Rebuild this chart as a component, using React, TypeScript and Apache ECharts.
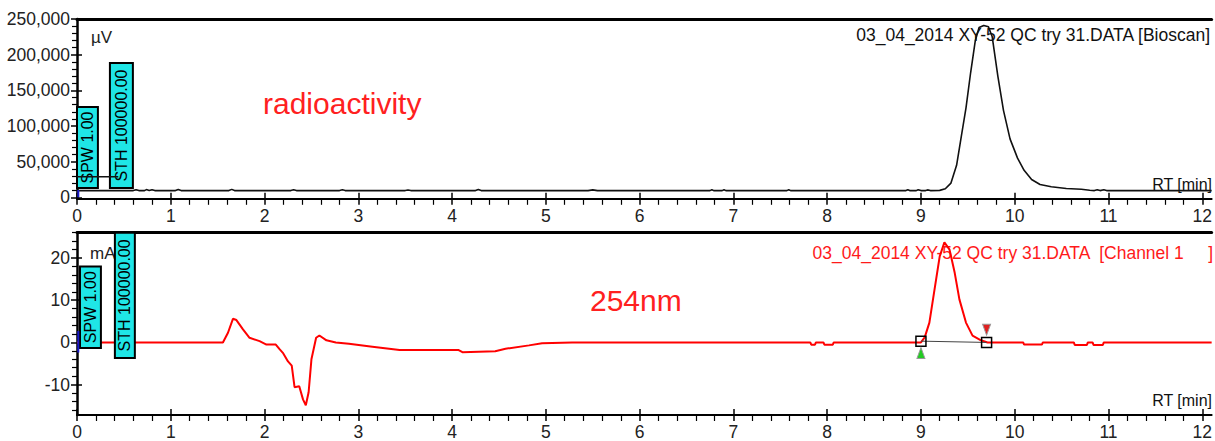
import React, { useEffect, useRef } from "react";
import * as echarts from "echarts";

// ---------- data ----------
// radioactivity trace (Bioscan), RT [min] and µV
const radioRT = [0, 0.6, 0.63, 0.66, 0.72, 0.74, 0.77, 0.8, 0.83, 1.05, 1.08, 1.11, 1.62, 1.65, 1.68, 2.28, 2.31, 2.34, 2.8, 2.83, 2.86, 3.5, 3.53, 3.56, 4.25, 4.28, 4.31, 5.45, 5.5, 5.55, 6.75, 6.77, 6.79, 6.88, 6.9, 6.92, 7.57, 7.59, 7.61, 8.84, 8.86, 8.88, 8.95, 8.97, 9.0, 9.05, 9.07, 9.1, 9.2, 9.26, 9.32, 9.38, 9.43, 9.48, 9.53, 9.58, 9.62, 9.67, 9.72, 9.76, 9.82, 9.88, 9.95, 10.03, 10.1, 10.18, 10.27, 10.39, 10.55, 10.71, 10.8, 10.85, 10.88, 10.91, 10.95, 10.98, 12.1];
const radioSignal = [9500, 9500, 10800, 9500, 9500, 10900, 9600, 10800, 9500, 9500, 11000, 9500, 9500, 11200, 9500, 9500, 10800, 9500, 9500, 10600, 9500, 9500, 10400, 9500, 9500, 11000, 9500, 9500, 10500, 9500, 9500, 10800, 9500, 9500, 10800, 9500, 9500, 10800, 9500, 9500, 10600, 9500, 9500, 10800, 9500, 9500, 10500, 9500, 9800, 12000, 20000, 45000, 85000, 125000, 175000, 220000, 238000, 241000, 239000, 225000, 170000, 122000, 82000, 55000, 38000, 25000, 18000, 15000, 12500, 11300, 10000, 9500, 10600, 9500, 10600, 9500, 9500];

// UV trace (254 nm), RT [min] and mAU
const uvRT = [0, 1.556, 1.61, 1.663, 1.7, 1.77, 1.84, 1.947, 2.02, 2.12, 2.16, 2.2, 2.25, 2.29, 2.32, 2.37, 2.41, 2.44, 2.47, 2.5, 2.55, 2.585, 2.66, 2.76, 2.9, 3.15, 3.44, 4.07, 4.11, 4.46, 4.57, 4.82, 4.96, 5.28, 7.82, 7.83, 7.87, 7.88, 7.96, 7.97, 8.06, 8.07, 9.0, 9.04, 9.09, 9.15, 9.2, 9.25, 9.305, 9.36, 9.41, 9.48, 9.55, 9.64, 9.71, 10.09, 10.1, 10.29, 10.3, 10.63, 10.64, 10.77, 10.78, 10.83, 10.84, 10.94, 10.95, 12.1];
const uvSignal = [0, 0, 2.3, 5.6, 5.3, 3.1, 1.1, 0.3, -0.5, -0.5, -1.6, -2.6, -4.5, -5.5, -10.6, -10.4, -13.5, -14.9, -11.8, -4.0, 1.1, 1.65, 0.5, 0, -0.3, -1.0, -1.8, -1.8, -2.3, -2.1, -1.5, -0.7, -0.2, 0, 0, -0.55, -0.55, 0, 0, -0.55, -0.55, 0, 0, 1.2, 4.7, 13.3, 20.4, 23.7, 22, 16.5, 10.2, 4.7, 1.6, 0.5, 0, 0, -0.5, -0.5, 0, 0, -0.6, -0.6, 0, 0, -0.6, -0.6, 0, 0];

// parameter boxes [RT start, RT end, value low, value high]
const topBoxLabels = ["SPW 1.00", "STH 100000.00"];
const topBoxes = [
  [0, 0.223, 13200, 126600],
  [0.351, 0.596, 13200, 188200],
];
const bottomBoxLabels = ["SPW 1.00", "STH 100000.00"];
const bottomBoxes = [
  [0.032, 0.255, -1.3, 18.0],
  [0.404, 0.617, -3.7, 26.0],
];
const thresholdLine = [[0, 29000], [0.44, 29000]];
const topStartMarker = [[0.014, 0], [0.014, 10500]];
const bottomStartMarker = [[0.014, -2.4], [0.014, 2.7]];
const peakBounds = [[9.0, 0.3], [9.7, 0.0]];
const peakStartFlag = [[9.0, -2.5]];
const peakEndFlag = [[9.7, 3.0]];

// ticks
const majorRT = [0, 1, 2, 3, 4, 5, 6, 7, 8, 9, 10, 11, 12];
const topYTicks = [0, 50000, 100000, 150000, 200000, 250000];
const bottomYTicks = [-10, 0, 10, 20];

const minorBetween = (majors: number[], step: number, lo: number, hi: number) => {
  const out: number[] = [];
  const first = majors[0] - 10 * step * 5;
  for (let v = first; v <= hi + 1e-9; v += step) {
    const r = Math.round(v * 1e6) / 1e6;
    if (r > lo && r < hi && !majors.some((m) => Math.abs(m - r) < 1e-9)) out.push(r);
  }
  return out;
};

const FONT = "'Liberation Sans', Arial, sans-serif";
const X_MAX = 12.1;
const TOP_Y = [-2000, 250000];
const BOT_Y = [-17.2, 26.1];

const minorRT = minorBetween(majorRT, 0.2, 0, X_MAX);
const topMinorY = minorBetween(topYTicks, 10000, TOP_Y[0], TOP_Y[1]);
const bottomMinorY = minorBetween(bottomYTicks, 2, BOT_Y[0], BOT_Y[1]);

const zip = (xs: number[], ys: number[]) => xs.map((x, i) => [x, ys[i]]);

const fmtThousands = (v: number) => String(Math.round(v)).replace(/\B(?=(\d{3})+(?!\d))/g, ",");

function xAxesFor(g: number) {
  const base = { type: "value", gridIndex: g, min: 0, max: X_MAX, splitLine: { show: false } };
  return [
    {
      ...base,
      position: "bottom",
      axisLine: { show: true, onZero: false, lineStyle: { color: "#000", width: 2 } },
      axisTick: { show: true, customValues: majorRT, length: 6, lineStyle: { color: "#000", width: 1.5 } },
      axisLabel: { show: true, customValues: majorRT, margin: 8, fontSize: 17.5, color: "#222", fontFamily: FONT },
    },
    {
      ...base,
      position: "bottom",
      axisLine: { show: false, onZero: false },
      axisTick: { show: true, inside: true, customValues: majorRT, length: 6, lineStyle: { color: "#000", width: 1.5 } },
      axisLabel: { show: false },
    },
    {
      ...base,
      position: "bottom",
      axisLine: { show: false, onZero: false },
      axisTick: { show: true, customValues: minorRT, length: 6, lineStyle: { color: "#000", width: 1.2 } },
      axisLabel: { show: false },
    },
    {
      ...base,
      position: "top",
      axisLine: { show: true, onZero: false, lineStyle: { color: "#000", width: 3 } },
      axisTick: { show: false },
      axisLabel: { show: false },
    },
  ];
}

function yAxesFor(g: number, range: number[], majors: number[], minors: number[], fmt: (v: number) => string) {
  const base = { type: "value", gridIndex: g, min: range[0], max: range[1], position: "left", splitLine: { show: false } };
  return [
    {
      ...base,
      axisLine: { show: true, onZero: false, lineStyle: { color: "#000", width: 2.5 } },
      axisTick: { show: true, customValues: majors, length: 6, lineStyle: { color: "#000", width: 1.5 } },
      axisLabel: { show: true, customValues: majors, margin: 7, fontSize: 17.5, color: "#222", fontFamily: FONT, formatter: fmt },
    },
    {
      ...base,
      axisLine: { show: false, onZero: false },
      axisTick: { show: true, inside: true, customValues: majors, length: 5, lineStyle: { color: "#000", width: 1.5 } },
      axisLabel: { show: false },
    },
    {
      ...base,
      axisLine: { show: false, onZero: false },
      axisTick: { show: true, customValues: minors, length: 5, lineStyle: { color: "#000", width: 1.2 } },
      axisLabel: { show: false },
    },
  ];
}

function boxSeries(xi: number, yi: number, boxes: number[][], labels: string[]) {
  return {
    type: "custom",
    xAxisIndex: xi,
    yAxisIndex: yi,
    z: 3,
    encode: { x: [0, 1], y: [2, 3] },
    data: boxes,
    renderItem: (params: any, api: any) => {
      const p0 = api.coord([api.value(0), api.value(3)]);
      const p1 = api.coord([api.value(1), api.value(2)]);
      const x = p0[0];
      const y = p0[1];
      const w = p1[0] - p0[0];
      const h = p1[1] - p0[1];
      return {
        type: "group",
        children: [
          { type: "rect", shape: { x, y, width: w, height: h }, style: { fill: "#1fe6e6", stroke: "#000", lineWidth: 2 } },
          {
            type: "text",
            x: x + w / 2,
            y: y + h / 2,
            rotation: Math.PI / 2,
            style: {
              text: labels[params.dataIndex],
              fill: "#000",
              fontSize: 16,
              fontFamily: FONT,
              align: "center",
              verticalAlign: "middle",
            },
          },
        ],
      };
    },
  };
}

export default function App() {
  const ref = useRef<HTMLDivElement>(null);
  useEffect(() => {
    if (!ref.current) return;
    const chart = echarts.init(ref.current, undefined, { renderer: "svg" });
    const option: any = {
      animation: false,
      backgroundColor: "#ffffff",
      textStyle: { fontFamily: FONT },
      grid: [
        { left: 77, top: 19, width: 1137.4, height: 179.8 },
        { left: 77, top: 232.3, width: 1137.4, height: 184.2 },
      ],
      xAxis: [...xAxesFor(0), ...xAxesFor(1)],
      yAxis: [
        ...yAxesFor(0, TOP_Y, topYTicks, topMinorY, fmtThousands),
        ...yAxesFor(1, BOT_Y, bottomYTicks, bottomMinorY, (v: number) => String(v)),
      ],
      graphic: [
        { type: "text", x: 91, y: 37, style: { text: "µV", fill: "#222", fontSize: 17, fontFamily: FONT, align: "left", verticalAlign: "middle" } },
        { type: "text", x: 90, y: 253, style: { text: "mAU", fill: "#222", fontSize: 17, fontFamily: FONT, align: "left", verticalAlign: "middle" } },
        { type: "text", x: 1210, y: 35, style: { text: "03_04_2014 XY-52 QC try 31.DATA [Bioscan]", fill: "#111", fontSize: 17.5, fontFamily: FONT, align: "right", verticalAlign: "middle" } },
        { type: "text", x: 1213, y: 253, style: { text: "03_04_2014 XY-52 QC try 31.DATA  [Channel 1     ]", fill: "#ff1a1a", fontSize: 17.5, fontFamily: FONT, align: "right", verticalAlign: "middle" } },
        { type: "text", x: 1212, y: 184, style: { text: "RT [min]", fill: "#111", fontSize: 16, fontFamily: FONT, align: "right", verticalAlign: "middle" } },
        { type: "text", x: 1212, y: 400, style: { text: "RT [min]", fill: "#111", fontSize: 16, fontFamily: FONT, align: "right", verticalAlign: "middle" } },
        { type: "text", x: 263, y: 103, style: { text: "radioactivity", fill: "#ff2020", fontSize: 30, fontFamily: FONT, align: "left", verticalAlign: "middle" } },
        { type: "text", x: 590, y: 300, style: { text: "254nm", fill: "#ff2020", fontSize: 30, fontFamily: FONT, align: "left", verticalAlign: "middle" } },
      ],
      series: [
        {
          type: "line", xAxisIndex: 0, yAxisIndex: 0, z: 2, symbol: "none",
          data: zip(radioRT, radioSignal),
          lineStyle: { color: "#111", width: 1.6 },
        },
        boxSeries(0, 0, topBoxes, topBoxLabels),
        {
          type: "line", xAxisIndex: 0, yAxisIndex: 0, z: 4, symbol: "none",
          data: thresholdLine, lineStyle: { color: "#111", width: 1.5 },
        },
        {
          type: "line", xAxisIndex: 0, yAxisIndex: 0, z: 4, symbol: "none",
          data: topStartMarker, lineStyle: { color: "#1a1acc", width: 2 },
        },
        {
          type: "line", xAxisIndex: 4, yAxisIndex: 3, z: 2, symbol: "none",
          data: zip(uvRT, uvSignal),
          lineStyle: { color: "#ff0000", width: 2 },
        },
        boxSeries(4, 3, bottomBoxes, bottomBoxLabels),
        {
          type: "line", xAxisIndex: 4, yAxisIndex: 3, z: 4, symbol: "none",
          data: bottomStartMarker, lineStyle: { color: "#1a1acc", width: 2 },
        },
        {
          type: "line", xAxisIndex: 4, yAxisIndex: 3, z: 4, symbol: "none",
          data: peakBounds, lineStyle: { color: "#444", width: 1 },
        },
        {
          type: "scatter", xAxisIndex: 4, yAxisIndex: 3, z: 5, symbol: "rect", symbolSize: 10,
          data: peakBounds,
          itemStyle: { color: "rgba(0,0,0,0)", borderColor: "#000", borderWidth: 1.5, opacity: 1 },
        },
        {
          type: "scatter", xAxisIndex: 4, yAxisIndex: 3, z: 5, symbol: "triangle", symbolSize: [8, 11],
          data: peakStartFlag,
          itemStyle: { color: "#22cc22", borderColor: "#999", borderWidth: 1, opacity: 1 },
        },
        {
          type: "scatter", xAxisIndex: 4, yAxisIndex: 3, z: 5, symbol: "triangle", symbolSize: [8, 11], symbolRotate: 180,
          data: peakEndFlag,
          itemStyle: { color: "#e02020", borderColor: "#999", borderWidth: 1, opacity: 1 },
        },
      ],
    };
    chart.setOption(option);
    return () => chart.dispose();
  }, []);
  return <div ref={ref} style={{ position: "fixed", left: 0, top: 0, width: 1215, height: 441 }} />;
}
